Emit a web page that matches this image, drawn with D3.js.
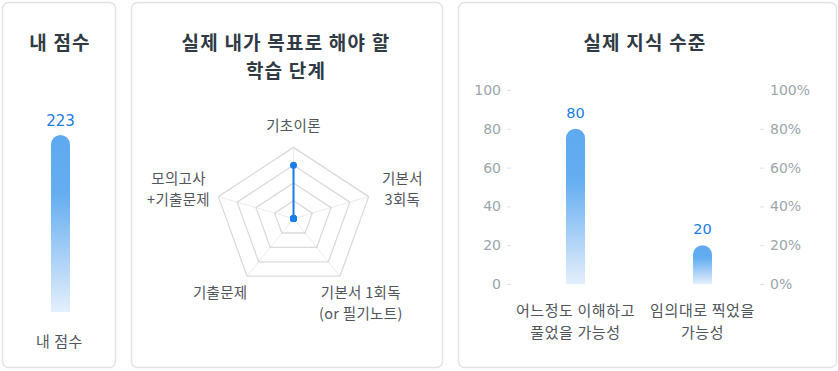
<!DOCTYPE html>
<html>
<head>
<meta charset="utf-8">
<script src="https://cdn.jsdelivr.net/npm/d3@7"></script>
<style>
  body { margin: 0; background: #fff; }
  text { font-family: "Noto Sans CJK KR", "Noto Sans", sans-serif; }
  .num { font-family: "DejaVu Sans", "Noto Sans", sans-serif; }
</style>
</head>
<body>
<div id="chart"></div>
<script>
// data
var myScoreLabel = "내 점수";
var myScore = 223;

var radarAxes = ["기초이론", "기본서\n3회독", "기본서 1회독\n(or 필기노트)", "기출문제", "모의고사\n+기출문제"];
var radarValues = [3, 0, 0, 0, 0];
var radarMax = 4;
var radarLevels = [1, 2, 3, 4];

var knowCategories = ["어느정도 이해하고\n풀었을 가능성", "임의대로 찍었을\n가능성"];
var knowValues = [80, 20];
var leftTicks = [0, 20, 40, 60, 80, 100];
var rightTicks = [0, 0.2, 0.4, 0.6, 0.8, 1];

var blue = "#1a7ce6";
var titleColor = "#2f3a44";
var labelColor = "#4f555b";
var axisColor = "#9aa6ad";

var svg = d3.select("#chart")
  .append("svg")
    .attr("width", 838)
    .attr("height", 371);

// gradient for the bars
var grad = svg.append("defs").append("linearGradient")
    .attr("id", "barGrad")
    .attr("x1", 0).attr("y1", 0).attr("x2", 0).attr("y2", 1);
grad.append("stop").attr("offset", "0").attr("stop-color", "#5fa9f0");
grad.append("stop").attr("offset", "0.33").attr("stop-color", "#64adf1");
grad.append("stop").attr("offset", "1").attr("stop-color", "#e4effc");

// card frames
[[2, 113], [131, 311], [458, 378]].forEach(function(c) {
  svg.append("rect")
    .attr("x", c[0] + 0.5).attr("y", 2.5)
    .attr("width", c[1]).attr("height", 365)
    .attr("rx", 6)
    .attr("fill", "#fff")
    .attr("stroke", "#e3e3e3")
    .attr("stroke-width", 1.5);
});

function multiline(sel, str, lh) {
  var lines = str.split("\n");
  lines.forEach(function(l, i) {
    sel.append("tspan")
      .attr("x", sel.attr("x"))
      .attr("dy", i == 0 ? 0 : lh)
      .text(l);
  });
}

// rounded top bar path
function barPath(x, y, w, h) {
  var r = Math.min(w / 2, h);
  return "M" + x + "," + (y + h) +
    "V" + (y + r) +
    "A" + r + "," + r + " 0 0 1 " + (x + w) + "," + (y + r) +
    "V" + (y + h) + "Z";
}

function title(x, y, str) {
  var t = svg.append("text")
    .attr("x", x).attr("y", y)
    .attr("text-anchor", "middle")
    .attr("font-size", 19)
    .attr("font-weight", "bold")
    .attr("letter-spacing", 1.2)
    .attr("fill", titleColor);
  multiline(t, str, 28);
}

// ---------- panel 1 : my score ----------
title(60, 50, "내 점수");

var x1 = d3.scaleBand().domain([myScoreLabel]).range([51, 70]);
var y1 = d3.scaleLinear().domain([0, myScore]).range([312, 135]);

svg.append("path")
  .attr("d", barPath(x1(myScoreLabel), y1(myScore), x1.bandwidth(), y1(0) - y1(myScore)))
  .attr("fill", "url(#barGrad)");

svg.append("text")
  .attr("class", "num")
  .attr("x", x1(myScoreLabel) + x1.bandwidth() / 2)
  .attr("y", y1(myScore) - 9)
  .attr("text-anchor", "middle")
  .attr("font-size", 15)
  .attr("fill", blue)
  .text(myScore);

svg.append("text")
  .attr("x", 59.5).attr("y", 347)
  .attr("text-anchor", "middle")
  .attr("font-size", 15)
  .attr("letter-spacing", 0.5)
  .attr("fill", labelColor)
  .text(myScoreLabel);

// ---------- panel 2 : radar ----------
title(286, 50, "실제 내가 목표로 해야 할\n학습 단계");

var cx = 293.5, cy = 218.6, rx = 79, ry = 71.2;
var r = d3.scaleLinear().domain([0, radarMax]).range([0, 1]);
var angle = function(i) { return -Math.PI / 2 + i * 2 * Math.PI / radarAxes.length; };
var pt = function(i, v) {
  return [cx + Math.cos(angle(i)) * rx * r(v), cy + Math.sin(angle(i)) * ry * r(v)];
};

// spokes
radarAxes.forEach(function(a, i) {
  var p = pt(i, radarMax);
  svg.append("line")
    .attr("x1", cx).attr("y1", cy)
    .attr("x2", p[0]).attr("y2", p[1])
    .attr("stroke", "#ececec")
    .attr("stroke-width", 1);
});

// rings
radarLevels.forEach(function(lv) {
  svg.append("polygon")
    .attr("points", radarAxes.map(function(a, i) { return pt(i, lv).join(","); }).join(" "))
    .attr("fill", "none")
    .attr("stroke", "#dadada")
    .attr("stroke-width", 1.3);
});

// axis names
radarAxes.forEach(function(a, i) {
  var c = Math.cos(angle(i)), s = Math.sin(angle(i));
  var lx = cx + c * rx * 1.45;
  var ly = cy + s * ry * 1.3;
  var lines = a.split("\n").length;
  if (s < -0.9) ly += 0;
  else if (s < 0.5) ly -= (lines - 1) * 21 / 2;
  if (c < -0.5) lx -= 6;
  var t = svg.append("text")
    .attr("x", lx).attr("y", ly + 5)
    .attr("text-anchor", "middle")
    .attr("font-size", 14.5)
    .attr("letter-spacing", 0.3)
    .attr("fill", labelColor);
  multiline(t, a, 21);
});

// data line
var line = d3.line().curve(d3.curveLinearClosed);
svg.append("path")
  .attr("d", line(radarValues.map(function(v, i) { return pt(i, v); })))
  .attr("fill", "none")
  .attr("stroke", blue)
  .attr("stroke-width", 2);

svg.selectAll(".dot")
  .data(radarValues)
  .enter().append("circle")
    .attr("cx", function(d, i) { return pt(i, d)[0]; })
    .attr("cy", function(d, i) { return pt(i, d)[1]; })
    .attr("r", 3.5)
    .attr("fill", blue);

// ---------- panel 3 : knowledge level ----------
title(645, 50, "실제 지식 수준");

var x3 = d3.scaleBand()
  .domain(knowCategories)
  .range([512, 766])
  .paddingInner(0.85)
  .paddingOuter(0.425);
var y3 = d3.scaleLinear().domain([0, 100]).range([284, 90]);
var y3r = d3.scaleLinear().domain([0, 1]).range([284, 90]);

var leftAxis = svg.append("g")
  .attr("transform", "translate(511,0)")
  .call(d3.axisLeft(y3).tickValues(leftTicks).tickSize(4).tickPadding(6));
var rightAxis = svg.append("g")
  .attr("transform", "translate(760,0)")
  .call(d3.axisRight(y3r).tickValues(rightTicks).tickSize(4).tickPadding(6).tickFormat(d3.format(".0%")));

[leftAxis, rightAxis].forEach(function(ax) {
  ax.select(".domain").remove();
  ax.selectAll("line").attr("stroke", "#e2e2e2");
  ax.selectAll("text")
    .attr("class", "num")
    .attr("font-size", 14)
    .attr("fill", axisColor);
});
// top percent tick has no mark
rightAxis.selectAll(".tick").filter(function(d) { return d == 1; }).select("line").remove();

svg.selectAll(".kbar")
  .data(knowValues)
  .enter().append("path")
    .attr("d", function(d, i) {
      return barPath(x3(knowCategories[i]), y3(d), x3.bandwidth(), y3(0) - y3(d));
    })
    .attr("fill", "url(#barGrad)");

svg.selectAll(".kval")
  .data(knowValues)
  .enter().append("text")
    .attr("class", "num")
    .attr("x", function(d, i) { return x3(knowCategories[i]) + x3.bandwidth() / 2; })
    .attr("y", function(d) { return y3(d) - 11; })
    .attr("text-anchor", "middle")
    .attr("font-size", 14.5)
    .attr("fill", blue)
    .text(function(d) { return d; });

knowCategories.forEach(function(c) {
  var t = svg.append("text")
    .attr("x", x3(c) + x3.bandwidth() / 2)
    .attr("y", 316)
    .attr("text-anchor", "middle")
    .attr("font-size", 15)
    .attr("letter-spacing", 0.6)
    .attr("fill", labelColor);
  multiline(t, c, 22);
});
</script>
</body>
</html>
